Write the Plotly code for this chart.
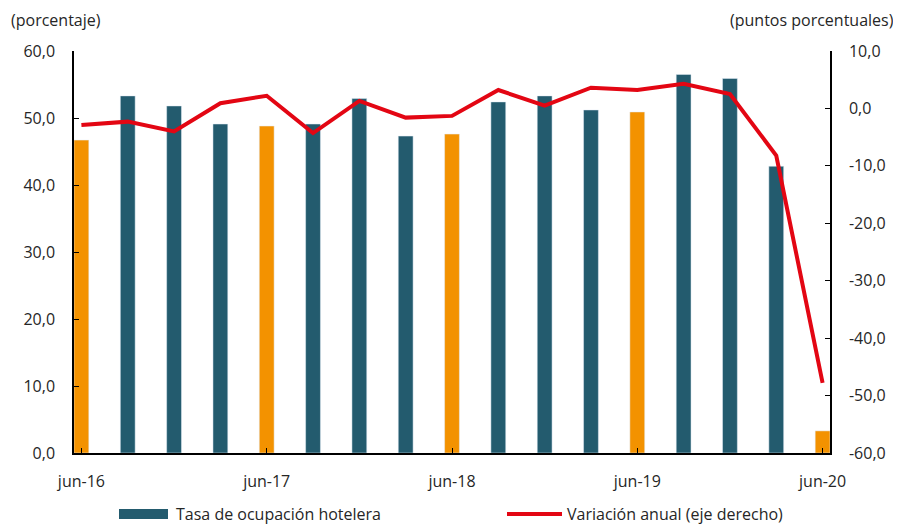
import plotly.graph_objects as go

quarters = ["jun-16", "sep-16", "dic-16", "mar-17", "jun-17", "sep-17", "dic-17", "mar-18",
            "jun-18", "sep-18", "dic-18", "mar-19", "jun-19", "sep-19", "dic-19", "mar-20", "jun-20"]
ocupacion = [46.7, 53.3, 51.8, 49.1, 48.8, 49.1, 52.9, 47.3,
             47.6, 52.4, 53.3, 51.2, 50.9, 56.5, 55.9, 42.8, 3.3]
variacion = [-2.9, -2.3, -4.0, 0.9, 2.2, -4.3, 1.3, -1.6,
             -1.3, 3.2, 0.5, 3.6, 3.2, 4.3, 2.5, -8.2, -47.8]
x_ticks = ["jun-16", "jun-17", "jun-18", "jun-19", "jun-20"]
left_ticks = [0, 10, 20, 30, 40, 50, 60]
right_ticks = [-60, -50, -40, -30, -20, -10, 0, 10]

TEAL = "#235B6E"
ORANGE = "#F39200"
RED = "#E30613"
FONT = "Open Sans"
FS = 16

def fmt(v):
    return f"{v:.1f}".replace(".", ",")

idx = list(range(len(quarters)))
teal_vals = [None if q.startswith("jun") else v for q, v in zip(quarters, ocupacion)]
orange_vals = [v if q.startswith("jun") else None for q, v in zip(quarters, ocupacion)]

fig = go.Figure()
fig.add_trace(go.Bar(x=idx, y=teal_vals, marker_color=TEAL, width=0.32,
                     name="Tasa de ocupación hotelera", showlegend=False))
fig.add_trace(go.Bar(x=idx, y=orange_vals, marker_color=ORANGE, width=0.32,
                     showlegend=False))
fig.add_trace(go.Scatter(x=idx, y=variacion, mode="lines", yaxis="y2",
                         line=dict(color=RED, width=4),
                         name="Variación anual (eje derecho)", showlegend=False))

tickpos = [quarters.index(t) for t in x_ticks]

# page body has an 8px margin; compensate so the plot lands where the reference has it
OFF = 8
W, H = 901 - OFF, 525 - OFF
L, R, T, B = 74 - OFF, 71, 51 - OFF, 72

fig.update_layout(
    width=W, height=H,
    margin=dict(l=L, r=R, t=T, b=B),
    paper_bgcolor="white", plot_bgcolor="white",
    barmode="overlay",
    font=dict(family=FONT, size=FS, color="#262626"),
    xaxis=dict(range=[-0.16, 16.16], tickvals=tickpos, ticktext=x_ticks,
               showgrid=False, zeroline=False, showline=True, linecolor="black", linewidth=1.5,
               ticks="inside", ticklen=5, tickcolor="black", ticklabelstandoff=13),
    yaxis=dict(range=[0, 60], tickvals=left_ticks, ticktext=[fmt(v) for v in left_ticks],
               showgrid=False, zeroline=False, showline=True, linecolor="black", linewidth=1.5,
               ticks="inside", ticklen=5, tickcolor="black", ticklabelstandoff=14),
    yaxis2=dict(range=[-60, 10], overlaying="y", side="right",
                tickvals=right_ticks, ticktext=[fmt(v) for v in right_ticks],
                showgrid=False, zeroline=False, showline=True, linecolor="black", linewidth=1.5,
                ticks="inside", ticklen=5, tickcolor="black", ticklabelstandoff=14),
)

pw, ph = W - L - R, H - T - B
def px(x):
    return (x - 74) / pw
def py(y):
    return (453 - y) / ph

fig.add_annotation(x=px(9), y=py(20), xref="paper", yref="paper", text="(porcentaje)",
                   showarrow=False, xanchor="left", yanchor="middle", font=dict(size=FS))
fig.add_annotation(x=px(896), y=py(20), xref="paper", yref="paper", text="(puntos porcentuales)",
                   showarrow=False, xanchor="right", yanchor="middle", font=dict(size=FS))

# legend
fig.add_shape(type="rect", xref="paper", yref="paper", x0=px(119), x1=px(168), y0=py(519), y1=py(509),
              fillcolor=TEAL, line=dict(width=0))
fig.add_annotation(x=px(174), y=py(514), xref="paper", yref="paper", text="Tasa de ocupación hotelera",
                   showarrow=False, xanchor="left", yanchor="middle", font=dict(size=FS))
fig.add_shape(type="line", xref="paper", yref="paper", x0=px(507), x1=px(562), y0=py(514), y1=py(514),
              line=dict(color=RED, width=4))
fig.add_annotation(x=px(565), y=py(514), xref="paper", yref="paper", text="Variación anual (eje derecho)",
                   showarrow=False, xanchor="left", yanchor="middle", font=dict(size=FS))

fig.write_html("out.html")
